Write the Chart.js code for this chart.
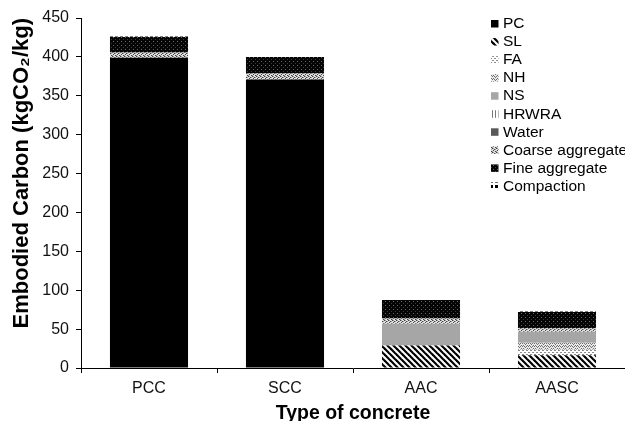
<!DOCTYPE html>
<html>
<head>
<meta charset="utf-8">
<script src="https://cdn.jsdelivr.net/npm/chart.js@4.4.1/dist/chart.umd.min.js"></script>
<style>
  html, body { margin: 0; padding: 0; background: #fff; }
</style>
</head>
<body>
<canvas id="chart" width="625" height="421"></canvas>
<script>
// ---- data ----
const categories = ["PCC", "SCC", "AAC", "AASC"];
const pc         = [399, 371, 0, 0];
const sl         = [0, 0, 29, 16.5];
const fa         = [0, 0, 0, 7];
const nh         = [0, 0, 0, 9];
const ns         = [0, 0, 28, 14];
const hrwra      = [0, 0, 0, 0];
const water      = [0, 0, 0, 0];
const coarse     = [6.5, 7.5, 6.5, 4.5];
const fine       = [20, 21.5, 24, 21];
const compaction = [0.7, 0, 0.7, 0.7];
const yMax = 450;
const yStep = 50;

const FONT = "'Liberation Sans', Arial, Helvetica, sans-serif";
const canvas = document.getElementById("chart");
const ctx = canvas.getContext("2d");

/*--------------------------------------------------------------
| Fill patterns (mimic the black & white hatching of the figure)
--------------------------------------------------------------*/
function makePattern(size, draw) {
    const c = document.createElement("canvas");
    c.width = size;
    c.height = size;
    const g = c.getContext("2d");
    draw(g, size);
    return ctx.createPattern(c, "repeat");
}

const slPattern = makePattern(6, (g, s) => {
    g.fillStyle = "#fff";
    g.fillRect(0, 0, s, s);
    g.strokeStyle = "#000";
    g.lineWidth = 2.2;
    for (let x = -s; x <= s; x += s) {
        g.beginPath();
        g.moveTo(x - 1, -1);
        g.lineTo(x + s + 1, s + 1);
        g.stroke();
    }
});

const faPattern = makePattern(4, (g, s) => {
    g.fillStyle = "#fff";
    g.fillRect(0, 0, s, s);
    g.fillStyle = "#8a8a8a";
    g.fillRect(0, 0, 2, 1);
    g.fillRect(2, 2, 2, 1);
});

const nhPattern = makePattern(6, (g, s) => {
    g.fillStyle = "#e8e8e8";
    g.fillRect(0, 0, s, s);
    g.fillStyle = "#707070";
    [[0, 1], [1, 0], [2, 1], [3, 2], [4, 1], [5, 0], [0, 4], [1, 3], [2, 4], [3, 5], [4, 4], [5, 3]]
        .forEach(([x, y]) => g.fillRect(x, y, 1, 1));
});

const hrwraPattern = makePattern(3, (g, s) => {
    g.fillStyle = "#fff";
    g.fillRect(0, 0, s, s);
    g.fillStyle = "#777";
    g.fillRect(0, 0, 1, s);
});

const coarsePattern = makePattern(4, (g, s) => {
    g.fillStyle = "#e0e0e0";
    g.fillRect(0, 0, s, s);
    g.fillStyle = "#444";
    [[0, 0], [2, 1], [1, 2], [3, 3]].forEach(([x, y]) => g.fillRect(x, y, 1, 1));
    g.fillStyle = "#999";
    [[1, 0], [3, 1], [0, 3]].forEach(([x, y]) => g.fillRect(x, y, 1, 1));
});

const finePattern = makePattern(4, (g, s) => {
    g.fillStyle = "#050505";
    g.fillRect(0, 0, s, s);
    g.fillStyle = "#6a6a6a";
    g.fillRect(1, 1, 1, 1);
    g.fillStyle = "#3a3a3a";
    g.fillRect(3, 3, 1, 1);
});

const compactionPattern = makePattern(5, (g, s) => {
    g.fillStyle = "#fff";
    g.fillRect(0, 0, s, s);
    g.fillStyle = "#000";
    g.fillRect(0, 0, 3, 3);
});

/*--------------------------------------------------------------
| Legend drawn inside the plot area (top right)
--------------------------------------------------------------*/
const insideLegend = {
    id: "insideLegend",
    afterDraw(chart) {
        const c = chart.ctx;
        c.save();
        c.font = "15.5px " + FONT;
        c.textBaseline = "middle";
        c.textAlign = "left";
        chart.data.datasets.forEach((ds, i) => {
            const y = 24 + i * 18.05;
            c.fillStyle = ds.backgroundColor;
            c.fillRect(491, y - 4, 7.5, 7.5);
            c.fillStyle = "#000";
            c.fillText(ds.label, 503, y);
        });
        c.restore();
    },
};

const config = {
    type: "bar",
    data: {
        labels: categories,
        datasets: [
            { label: "PC", data: pc, backgroundColor: "#000" },
            { label: "SL", data: sl, backgroundColor: slPattern },
            { label: "FA", data: fa, backgroundColor: faPattern },
            { label: "NH", data: nh, backgroundColor: nhPattern },
            { label: "NS", data: ns, backgroundColor: "#a6a6a6" },
            { label: "HRWRA", data: hrwra, backgroundColor: hrwraPattern },
            { label: "Water", data: water, backgroundColor: "#595959" },
            { label: "Coarse aggregate", data: coarse, backgroundColor: coarsePattern },
            { label: "Fine aggregate", data: fine, backgroundColor: finePattern },
            { label: "Compaction", data: compaction, backgroundColor: compactionPattern },
        ],
    },
    options: {
        responsive: false,
        animation: false,
        devicePixelRatio: 1,
        datasets: {
            bar: { categoryPercentage: 1, barPercentage: 0.574, borderWidth: 0 },
        },
        layout: { padding: { top: 18, right: 0, bottom: 0, left: 0 } },
        plugins: {
            legend: { display: false },
            tooltip: { enabled: false },
        },
        scales: {
            x: {
                stacked: true,
                grid: { drawOnChartArea: false, drawTicks: true, tickLength: 5, color: "#000" },
                border: { color: "#000", width: 1 },
                ticks: { color: "#111", font: { family: FONT, size: 16 }, padding: 6 },
                title: {
                    display: true,
                    text: "Type of concrete",
                    color: "#000",
                    font: { family: FONT, size: 19.5, weight: "bold" },
                    padding: { top: 0, bottom: -4 },
                },
                afterFit(scale) { scale.height = 53; },
            },
            y: {
                stacked: true,
                min: 0,
                max: yMax,
                ticks: { stepSize: yStep, color: "#111", font: { family: FONT, size: 16 }, padding: 7 },
                grid: { drawOnChartArea: false, drawTicks: true, tickLength: 5, color: "#000" },
                border: { color: "#000", width: 1 },
                title: {
                    display: true,
                    text: "Embodied Carbon (kgCO\u2082/kg)",
                    color: "#000",
                    align: "end",
                    font: { family: FONT, size: 22, weight: "bold" },
                    padding: { top: 9, bottom: 0 },
                },
                afterFit(scale) { scale.width = 81; },
            },
        },
    },
    plugins: [insideLegend],
};

new Chart(ctx, config);
</script>
</body>
</html>
